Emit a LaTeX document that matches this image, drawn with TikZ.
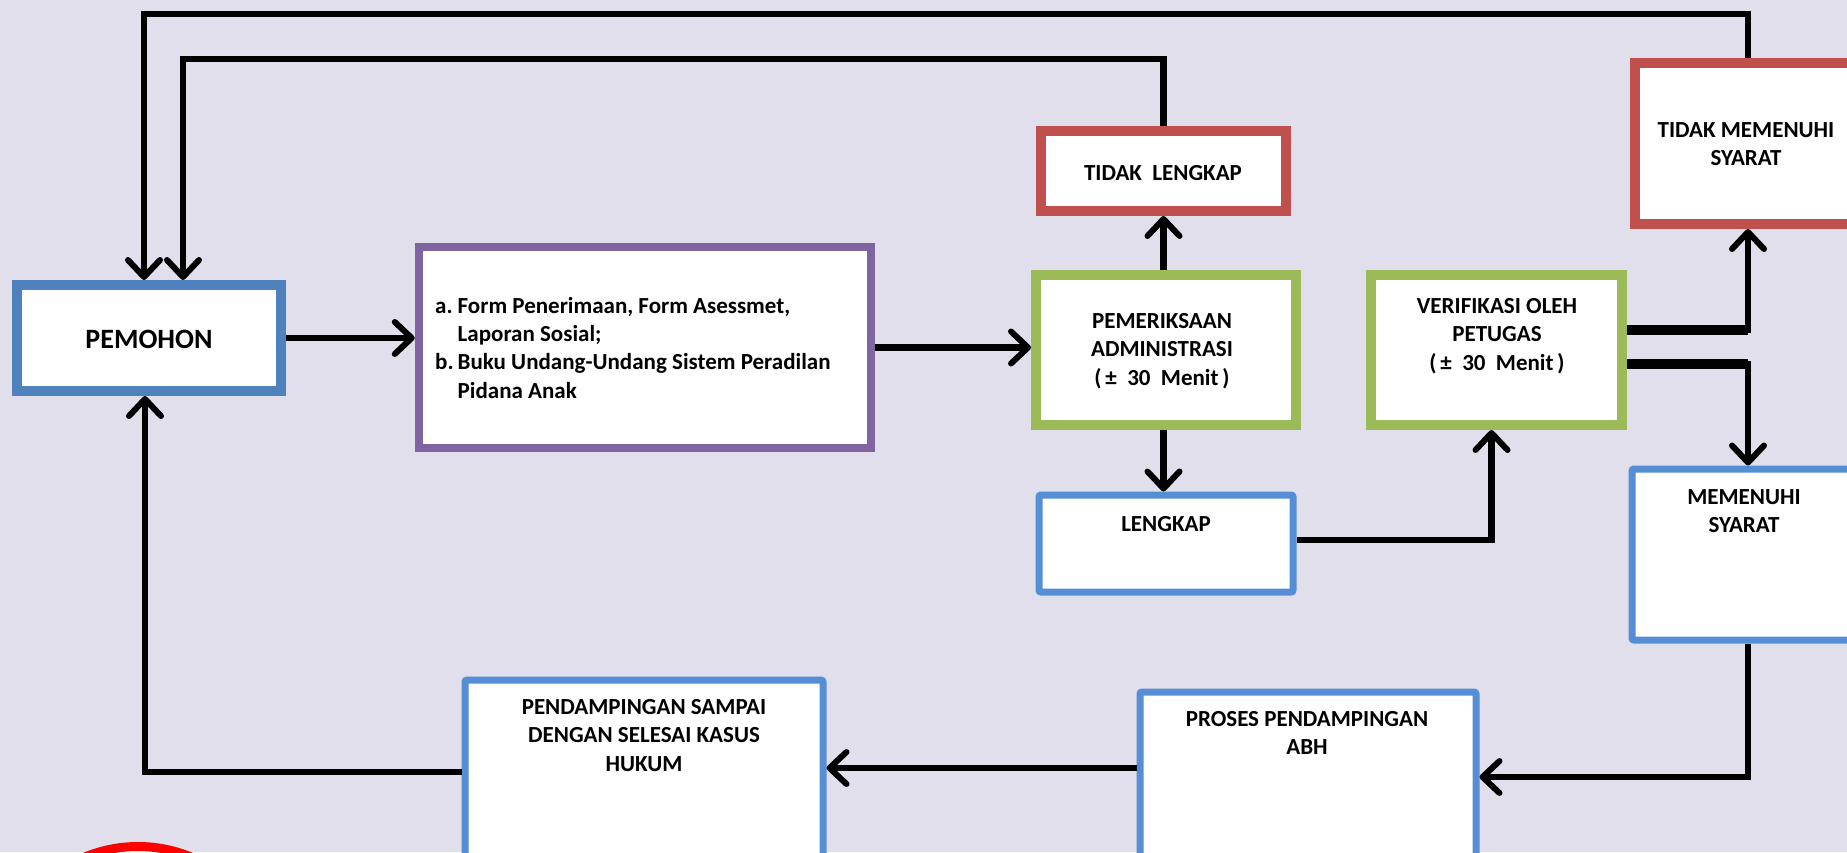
\documentclass[tikz,border=0pt]{standalone}
\usepackage{fontspec}
\setmainfont{Carlito}
\usetikzlibrary{arrows.meta,calc}

\definecolor{bgc}{RGB}{225,223,235}
\definecolor{bluedark}{RGB}{79,129,189}
\definecolor{bluelight}{RGB}{85,142,213}
\definecolor{redbox}{RGB}{192,80,77}
\definecolor{greenbox}{RGB}{155,187,89}
\definecolor{purplebox}{RGB}{128,100,162}

% stacked, centred lines whose base is the first line's baseline
\newcommand{\mlines}[1]{\begin{tabular}[t]{@{}c@{}}#1\end{tabular}}

\begin{document}
\begin{tikzpicture}[
  x=1pt, y=-1pt,
  box/.style={draw, fill=white, rectangle, inner sep=0pt},
  bluebox/.style={box, draw=bluelight, line width=7pt, rounded corners=2pt},
  txt/.style={inner sep=0pt, anchor=base, font=\fontsize{23}{28.5}\selectfont\bfseries},
  conn/.style={line width=6.5pt, draw=black},
  arr/.style={conn, -{Straight Barb[length=17pt, width=32pt, line width=6pt, round]}},
]
\useasboundingbox (0,0) rectangle (1847,852);
\clip (0,0) rectangle (1847,852);
\fill[bgc] (0,0) rectangle (1847,852);

% boxes
\node[box, draw=bluedark, line width=10pt, minimum width=264pt, minimum height=106pt] (pem) at (149,338) {};
\node[box, draw=purplebox, line width=8.5pt, minimum width=452pt, minimum height=201pt] (docs) at (645,347.5) {};
\node[box, draw=redbox, line width=10pt, minimum width=245pt, minimum height=80pt] (tl) at (1163.5,171) {};
\node[box, draw=greenbox, line width=10pt, minimum width=260pt, minimum height=150pt] (adm) at (1166,350) {};
\node[box, draw=greenbox, line width=10pt, minimum width=251pt, minimum height=150pt] (ver) at (1496.5,350) {};
\node[box, draw=redbox, line width=10pt, minimum width=230pt, minimum height=161pt] (tms) at (1750,143.5) {};
\node[bluebox, minimum width=254pt, minimum height=97pt] (lk) at (1166,543.5) {};
\node[bluebox, minimum width=234pt, minimum height=171pt] (ms) at (1749,554.5) {};
\node[bluebox, minimum width=336pt, minimum height=178pt] (pro) at (1308,781) {};
\node[bluebox, minimum width=358pt, minimum height=190pt] (pds) at (644,775) {};

% round emblem at the lower left
\draw[red, fill=white, line width=9pt] (138,985) circle (138.5);

% box texts
\node[txt, font=\fontsize{28}{34}\selectfont\bfseries] (tpem) at (149,348) {PEMOHON};
\node[inner sep=0pt, anchor=north west, font=\fontsize{23}{28.3}\selectfont\bfseries] (tdocs) at (435,293.2)
  {\begin{tabular}{@{}l@{\hspace{4pt}}l@{}}
   a. & Form Penerimaan, Form Asessmet,\\
      & Laporan Sosial;\\
   b. & Buku Undang-Undang Sistem Peradilan\\
      & Pidana Anak
   \end{tabular}};
\node[txt] (ttl) at (1163,180) {TIDAK\ \ LENGKAP};
\node[txt] (tadm) at (1162,328) {\mlines{PEMERIKSAAN\\ADMINISTRASI\\(\,±\ \ 30\ \ Menit\,)}};
\node[txt] (tver) at (1497,313) {\mlines{VERIFIKASI\ OLEH\\PETUGAS\\(\,±\ \ 30\ \ Menit\,)}};
\node[txt] (ttms) at (1746,137) {\mlines{TIDAK MEMENUHI\\SYARAT}};
\node[txt] (tlk) at (1166,531) {LENGKAP};
\node[txt] (tms2) at (1744,504) {\mlines{MEMENUHI\\SYARAT}};
\node[txt] (tpro) at (1307,726) {\mlines{PROSES PENDAMPINGAN\\ABH}};
\node[txt] (tpds) at (644,714) {\mlines{PENDAMPINGAN SAMPAI\\DENGAN SELESAI KASUS\\HUKUM}};

% bend heights of the two return lines and other connector ends
\coordinate (topouter) at (0,14);
\coordinate (topinner) at (0,59);
\coordinate (proout) at ($(pro.west)+(0,-13)$);

% connectors
\draw[arr] (pem.east) -- (pem.east -| docs.west);
\draw[arr] (docs.east) -- (docs.east -| adm.west);
\draw[arr] (adm.north -| tl.south) -- (tl.south);
\draw[arr] (adm.south -| tl.south) -- (lk.north -| tl.south);
\draw[arr] ($(lk.east)+(0,-3.5)$) -| ([xshift=-5pt]ver.south);
\draw[arr] ($(ver.east)+(0,-20)$) -| ([xshift=-2pt]tms.south);
\draw[arr] ($(ver.east)+(0,14)$) -| ([xshift=-1pt]ms.north);
\draw[arr] ([xshift=-2pt]tms.north) -- ([xshift=-2pt]tms.north |- topouter) -| ([xshift=-5pt]pem.north);
\draw[arr] (tl.north) -- (tl.north |- topinner) -| ([xshift=34pt]pem.north);
\draw[arr] ([xshift=-1pt]ms.south) |- ($(pro.east)+(0,-4)$);
\draw[arr] (proout) -- (proout -| pds.east);
\draw[arr] ($(pds.west)+(0,-3)$) -| ([xshift=-4pt]pem.south);

% heavier stubs leaving the verification box
\draw[line width=9.5pt] ($(ver.east)+(0,-20)$) -- ++(121,0);
\draw[line width=9.5pt] ($(ver.east)+(0,14)$) -- ++(121,0);
\end{tikzpicture}
\end{document}
